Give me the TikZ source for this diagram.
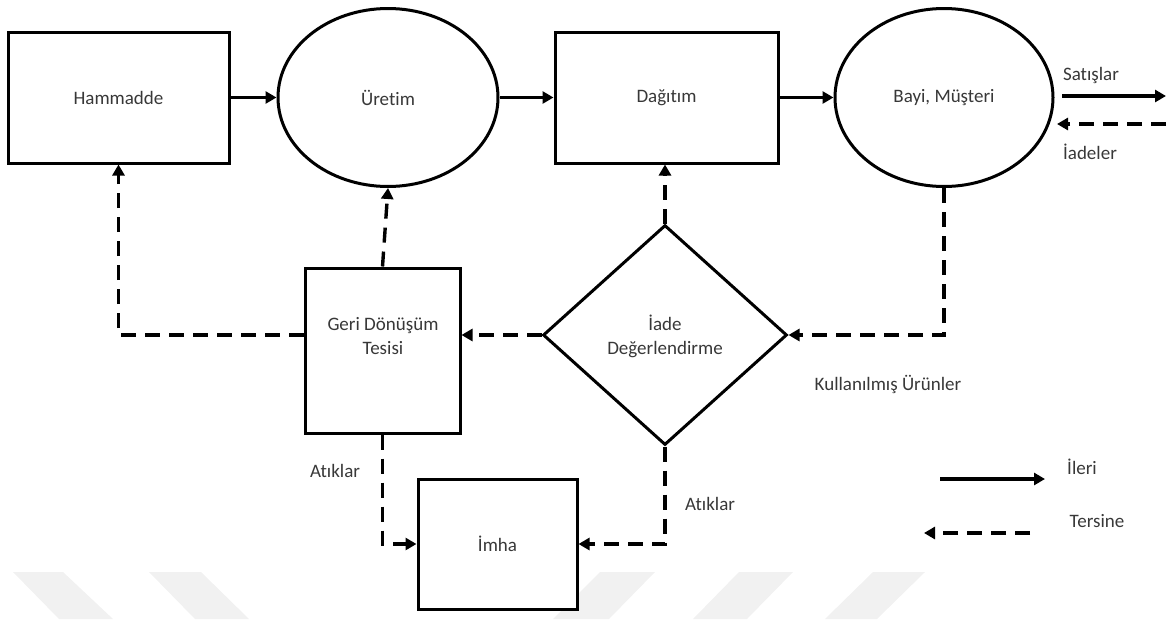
\documentclass[tikz,border=0pt]{standalone}
\usepackage{fontspec}
\setmainfont{Carlito}[Ligatures=NoCommon]
\usetikzlibrary{arrows.meta,shapes.geometric,calc}
\definecolor{txt}{HTML}{383838}
\definecolor{wmark}{HTML}{F1F1F1}
\begin{document}
\begin{tikzpicture}[x=1pt,y=-1pt,
  every node/.style={font=\fontsize{19}{23}\selectfont,text=txt},
  box/.style={draw=black,line width=3pt,fill=white,rectangle,inner sep=0pt},
  oval/.style={draw=black,line width=3pt,fill=white,ellipse,inner sep=0pt},
  gem/.style={draw=black,line width=3pt,fill=white,diamond,inner sep=0pt},
  fwd/.style={line width=3.4pt,-{Triangle[length=11pt,width=12pt]}},
  rev/.style={line width=3.4pt,dash pattern=on 15pt off 9pt,-{Triangle[length=11pt,width=12pt]}},
  lbl/.style={inner sep=0pt,align=center}]
\useasboundingbox (0,0) rectangle (1171,619);

% faint background stripes along the bottom edge
\fill[wmark] (13,572) -- (63,572) -- (113,619) -- (59,619) -- cycle;
\fill[wmark] (149,572) -- (201,572) -- (249,619) -- (195,619) -- cycle;
\fill[wmark] (600,572) -- (655,572) -- (609,619) -- (553,619) -- cycle;
\fill[wmark] (739,572) -- (793,572) -- (747,619) -- (693,619) -- cycle;
\fill[wmark] (873,572) -- (925,572) -- (877,619) -- (825,619) -- cycle;

% main chain
\node[box,minimum width=221pt,minimum height=131pt] (ham) at (118.5,97.5) {Hammadde};
\node[oval,minimum width=220pt,minimum height=178pt] (ure) at (388,97.5) {Üretim};
\node[box,minimum width=223pt,minimum height=131pt] (dag) at (666.5,97.5) {Dağıtım};
\node[oval,minimum width=218pt,minimum height=178pt] (bay) at (944,97.5) {Bayi, Müşteri};

% reverse side
\node[gem,minimum width=244pt,minimum height=220pt] (iad) at (665,335) {};
\node[lbl] (iadt) at (665,336) {İade\\[1pt]Değerlendirme};
\node[box,minimum width=155pt,minimum height=165pt] (geri) at (382.5,350.5) {};
\node[lbl] (gerit) at (383,336) {Geri Dönüşüm\\[1pt]Tesisi};
\node[box,minimum width=159pt,minimum height=130pt] (imha) at (497.5,544) {İmha};

% forward flows
\draw[fwd] (ham.east) -- (ure.west);
\draw[fwd] (ure.east) -- (dag.west);
\draw[fwd] (dag.east) -- (bay.west);
\coordinate (s1) at (1062,96);
\coordinate (s2) at (1166,96);
\draw[fwd] (s1) -- (s2);
\node[lbl] (sat) at (1091,75) {Satışlar};

% returns
\coordinate (r1) at (1166,124);
\coordinate (r2) at (1057,124);
\draw[rev] (r1) -- (r2);
\node[lbl] (iade) at (1090,152) {İadeler};

% reverse flows
\draw[rev] (bay.south) |- (iad.east);
\node[lbl] (kul) at (888,384) {Kullanılmış Ürünler};
\draw[rev] (iad.north) -- (iad.north |- dag.south);
\draw[rev] (iad.west) -- (iad.west -| geri.east);
\draw[rev] (geri.north) -- (ure.south);
\draw[rev] (geri.west |- iad.west) -| (ham.south);
\draw[rev] (geri.south) |- (imha.west);
\node[lbl] (at1) at (335,471) {Atıklar};
\draw[rev] (iad.south) |- (imha.east);
\node[lbl] (at2) at (710,504) {Atıklar};

% legend
\coordinate (l1) at (940,479);
\coordinate (l2) at (1045,479);
\draw[fwd] (l1) -- (l2);
\node[lbl] (ileri) at (1082,467) {İleri};
\coordinate (l3) at (1030,533);
\coordinate (l4) at (924,533);
\draw[rev] (l3) -- (l4);
\node[lbl] (ters) at (1097,521) {Tersine};
\end{tikzpicture}
\end{document}
